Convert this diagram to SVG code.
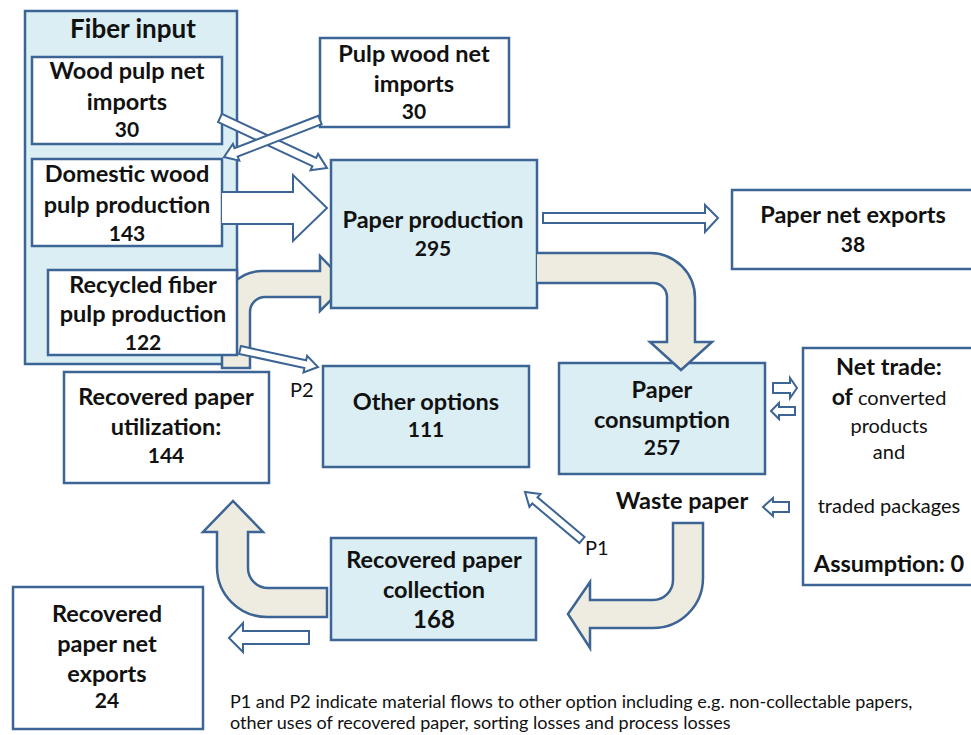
<svg xmlns="http://www.w3.org/2000/svg" width="971" height="735" viewBox="0 0 971 735">
<style>
.box{fill:#fff;stroke:#3C6494;stroke-width:2.5}
.bl{fill:#DAEEF3;stroke:#3C6494;stroke-width:2.5}
.ar{fill:#fff;stroke:#3C6494;stroke-width:2;stroke-linejoin:miter}
.gr{fill:#EEECE1;stroke:#3C6494;stroke-width:2.5}
.t{font-family:Lato,"Liberation Sans",sans-serif;font-weight:bold;font-size:23.5px;text-anchor:middle;fill:#111}
.n{font-size:21px}
.r{font-weight:normal}
.s{text-anchor:start}
</style>
<rect width="971" height="735" fill="#fff"/>

<g id="fiber-input">
<rect class="bl" x="25" y="11" width="212" height="353"/>
<text class="t" x="133" y="38" style="font-size:26px">Fiber input</text>
</g>

<g id="connectors-back">
<path class="gr" d="M222,368 V312 A40,40 0 0 1 262,271 H320 V256 L347,284 L320,311 V297 H265 A15,15 0 0 0 250,312 V368 Z"/>
</g>

<g id="wood-pulp-net-imports">
<rect class="box" x="32" y="57" width="190" height="87"/>
<text class="t" x="127" y="79">Wood pulp net</text>
<text class="t" x="127" y="110">imports</text>
<text class="t n" x="127" y="137">30</text>
</g>

<g id="domestic-wood-pulp">
<rect class="box" x="32" y="159" width="190" height="87"/>
<text class="t" x="127" y="182">Domestic wood</text>
<text class="t" x="127" y="213">pulp production</text>
<text class="t n" x="127" y="241">143</text>
</g>

<g id="recycled-fiber-pulp">
<rect class="box" x="48" y="270" width="189" height="85"/>
<text class="t" x="143" y="293">Recycled fiber</text>
<text class="t" x="143" y="322">pulp production</text>
<text class="t n" x="143" y="350">122</text>
</g>

<g id="pulp-wood-net-imports">
<rect class="box" x="320" y="38" width="189" height="89"/>
<text class="t" x="414" y="62">Pulp wood net</text>
<text class="t" x="414" y="92">imports</text>
<text class="t n" x="414" y="119">30</text>
</g>

<g id="paper-production">
<rect class="bl" x="331" y="160" width="206" height="148"/>
<text class="t" x="433" y="228">Paper production</text>
<text class="t n" x="433" y="256">295</text>
</g>

<g id="paper-net-exports">
<rect class="box" x="732" y="190" width="250" height="79"/>
<text class="t" x="853" y="223">Paper net exports</text>
<text class="t n" x="853" y="252">38</text>
</g>

<g id="recovered-paper-utilization">
<rect class="box" x="64" y="372" width="205" height="111"/>
<text class="t" x="166" y="405">Recovered paper</text>
<text class="t" x="166" y="435">utilization:</text>
<text class="t n" x="166" y="463">144</text>
</g>

<g id="other-options">
<rect class="bl" x="323" y="366" width="206" height="101"/>
<text class="t" x="426" y="410">Other options</text>
<text class="t n" x="426" y="437">111</text>
</g>

<g id="paper-consumption">
<rect class="bl" x="559" y="363" width="206" height="111"/>
<text class="t" x="662" y="398">Paper</text>
<text class="t" x="662" y="428">consumption</text>
<text class="t n" x="662" y="455">257</text>
</g>

<g id="net-trade">
<rect class="box" x="803" y="348" width="180" height="237"/>
<text class="t" x="889" y="375">Net trade:</text>
<text class="t r" x="889" y="405" style="font-size:20px"><tspan style="font-weight:bold;font-size:23px">of</tspan> converted</text>
<text class="t r" x="889" y="433" style="font-size:20px">products</text>
<text class="t r" x="889" y="459" style="font-size:20px">and</text>
<text class="t r" x="889" y="513" style="font-size:20px">traded packages</text>
<text class="t" x="889" y="572">Assumption: 0</text>
</g>

<g id="waste-paper">
<text class="t" x="682" y="509">Waste paper</text>
</g>

<g id="recovered-paper-collection">
<rect class="bl" x="331" y="538" width="205" height="102"/>
<text class="t" x="434" y="568">Recovered paper</text>
<text class="t" x="434" y="598">collection</text>
<text class="t" x="434" y="628" style="font-size:24px">168</text>
</g>

<g id="recovered-paper-net-exports">
<rect class="box" x="13" y="587" width="190" height="142"/>
<text class="t" x="107" y="622">Recovered</text>
<text class="t" x="107" y="652">paper net</text>
<text class="t" x="107" y="682">exports</text>
<text class="t n" x="107" y="708">24</text>
</g>

<g id="connectors">
<polygon class="ar" points="221.9,113.9 316.2,158.0 318.1,153.9 327,168 310.5,170.3 312.4,166.2 218.1,122.1"/>
<polygon class="ar" points="318.4,115.8 234.5,148.1 232.9,143.9 224,157 239.3,160.7 237.7,156.5 321.6,124.2"/>
<path class="ar" d="M222,192 H293 V175 L327,208 L293,241 V224 H222"/>
<polygon class="ar" points="240.9,346.1 306.2,360.3 307.1,355.9 318,367 303.5,372.5 304.4,368.1 239.1,353.9"/>
<polygon class="ar" points="543,213 705,213 705,205 718,218 705,232 705,223 543,223"/>
<path class="gr" d="M537,253 H650 A45,45 0 0 1 695,298 V342 H712 L681,370 L650,342 H667 V297 A14,14 0 0 0 653,283 H537"/>
<polygon class="ar" points="773,383 790,383 790,378 797,388 790,398 790,393 773,393"/>
<polygon class="ar" points="795,407 779,407 779,403 771,411 779,419 779,415 795,415"/>
<polygon class="ar" points="789,502 773,502 773,498 763,507 773,516 773,512 789,512"/>
<path class="gr" d="M673,523 H703 V578 A50,50 0 0 1 653,628 H590 V648 L568,614 L590,582 V600 H653 A20,20 0 0 0 673,580 Z"/>
<polygon class="ar" points="584.6,536.9 537.5,497.3 540.4,493.9 525,492 529.4,506.9 532.3,503.5 579.4,543.1"/>
<path class="gr" d="M327,588 H268 A20,20 0 0 1 248,568 V532 H263 L233,501 L203,532 H217 V567 A50,50 0 0 0 267,617 H327 Z"/>
<polygon class="ar" points="309,631 243,631 243,623 229,638 243,652 243,644 309,644"/>
</g>

<g id="labels">
<text class="t r s" x="585" y="555" style="font-size:20px">P1</text>
<text class="t r s" x="290" y="397" style="font-size:20px">P2</text>
<text class="t r s" x="230" y="708" style="font-size:18px">P1 and P2 indicate material flows to other option including e.g. non-collectable papers,</text>
<text class="t r s" x="230" y="729" style="font-size:18px">other uses of recovered paper, sorting losses and process losses</text>
</g>
</svg>
